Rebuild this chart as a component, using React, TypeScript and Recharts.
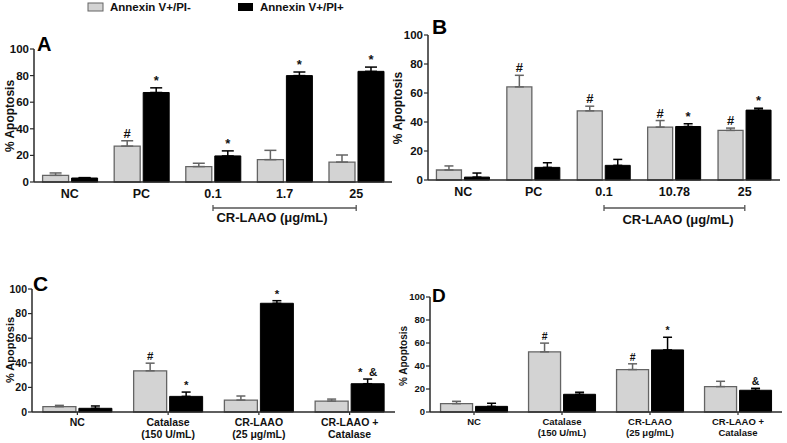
import React from 'react';
import { BarChart, Bar, XAxis, YAxis, ErrorBar, LabelList } from 'recharts';

const FONT = '"Liberation Sans", Arial, Helvetica, sans-serif';
const GRAY = '#d3d3d3';
const GRAY_EDGE = '#646464';
const INK = '#111111';
const AXIS = '#2a2a2a';

const yTicks = [0, 20, 40, 60, 80, 100];

// Panel A
const catsA = ['NC', 'PC', '0.1', '1.7', '25'];
const grayA = [5, 27, 11.6, 16.8, 15];
const grayErrA = [1.8, 4, 2.5, 7, 5.3];
const blackA = [3, 67.3, 19.6, 80, 83.2];
const blackErrA = [0.3, 3.5, 3.8, 2.7, 3.2];
const grayMarkA = ['', '#', '', '', ''];
const blackMarkA = ['', '*', '*', '*', '*'];

// Panel B
const catsB = ['NC', 'PC', '0.1', '10.78', '25'];
const grayB = [6.9, 64.2, 47.7, 36.5, 34.2];
const grayErrB = [2.8, 8, 3.2, 4.5, 1.6];
const blackB = [2, 8.7, 10.1, 36.9, 48.2];
const blackErrB = [2.8, 3.2, 4.1, 1.9, 1.3];
const grayMarkB = ['', '#', '#', '#', '#'];
const blackMarkB = ['', '', '', '*', '*'];

// Panels C and D share categories
const catsCD = ['NC', 'Catalase\n(150 U/mL)', 'CR-LAAO\n(25 μg/mL)', 'CR-LAAO +\nCatalase'];

const grayC = [4.3, 33.5, 9.7, 8.9];
const grayErrC = [1.1, 6.2, 3.3, 1.6];
const blackC = [3, 12.7, 88.4, 23];
const blackErrC = [1.9, 3.5, 2.1, 3.8];
const grayMarkC = ['', '#', '', ''];
const blackMarkC = ['', '*', '*', '*  &'];

const grayD = [7.3, 52.3, 36.9, 22.1];
const grayErrD = [2, 7.6, 5, 4.6];
const blackD = [4.9, 15.4, 54, 18.9];
const blackErrD = [2.7, 1.8, 11, 1.7];
const grayMarkD = ['', '#', '#', ''];
const blackMarkD = ['', '', '*', '&'];

type Row = {
  cat: string;
  gray: number;
  grayErr: number[];
  black: number;
  blackErr: number[];
  grayMark: string;
  blackMark: string;
};

const rows = (cats: string[], g: number[], ge: number[], b: number[], be: number[], gm: string[], bm: string[]): Row[] =>
  cats.map((cat, i) => ({
    cat,
    gray: g[i],
    grayErr: [0, ge[i]],
    black: b[i],
    blackErr: [0, be[i]],
    grayMark: gm[i],
    blackMark: bm[i],
  }));

const dataA = rows(catsA, grayA, grayErrA, blackA, blackErrA, grayMarkA, blackMarkA);
const dataB = rows(catsB, grayB, grayErrB, blackB, blackErrB, grayMarkB, blackMarkB);
const dataC = rows(catsCD, grayC, grayErrC, blackC, blackErrC, grayMarkC, blackMarkC);
const dataD = rows(catsCD, grayD, grayErrD, blackD, blackErrD, grayMarkD, blackMarkD);

type PanelProps = {
  data: Row[];
  left: number;
  top: number;
  right: number;
  bottom: number;
  yFont: number;
  xFont: number;
  lineGap: number;
  markFont: number;
  cap: number;
  xTickLen: number;
};

const YW = 32;

const Panel = (p: PanelProps) => {
  const plotW = p.right - p.left;
  const plotH = p.bottom - p.top;
  const mTop = 8;
  const xH = 34;
  const w = YW + plotW + 2;
  const h = mTop + plotH + xH;

  const renderTick = (props: any) => {
    const { x, y, payload } = props;
    const lines = String(payload.value).split('\n');
    return (
      <text x={x} y={y} textAnchor="middle" fontSize={p.xFont} fontWeight="bold" fontFamily={FONT} fill={INK}>
        {lines.map((l, i) => (
          <tspan key={i} x={x} dy={i === 0 ? p.xFont * 0.85 : p.lineGap}>{l}</tspan>
        ))}
      </text>
    );
  };

  // star / hash marks sit just above the top of each error whisker
  const markLabel = (errKey: 'grayErr' | 'blackErr', valKey: 'gray' | 'black') => (props: any) => {
    const { viewBox, value, index } = props;
    if (!value || !viewBox) return null;
    const row = p.data[index];
    const pxPerUnit = viewBox.height / row[valKey];
    const topY = viewBox.y - row[errKey][1] * pxPerUnit;
    return (
      <text x={viewBox.x + viewBox.width / 2} y={topY - 3} textAnchor="middle" fontSize={p.markFont} fontWeight="bold" fontFamily={FONT} fill={INK} style={{ whiteSpace: 'pre' }}>
        {value}
      </text>
    );
  };

  return (
    <div style={{ position: 'absolute', left: p.left - YW, top: p.top - mTop }}>
      <BarChart width={w} height={h} data={p.data} margin={{ top: mTop, right: 2, left: 0, bottom: 0 }} barCategoryGap="12%" barGap={3}>
        <XAxis
          dataKey="cat"
          interval={0}
          height={xH}
          axisLine={{ stroke: AXIS, strokeWidth: 1.5 }}
          tickLine={p.xTickLen > 0 ? { stroke: AXIS, strokeWidth: 1.2 } : false}
          tickSize={p.xTickLen > 0 ? p.xTickLen : 3}
          tickMargin={2}
          tick={renderTick}
        />
        <YAxis
          width={YW}
          domain={[0, 100]}
          ticks={yTicks}
          interval={0}
          axisLine={{ stroke: AXIS, strokeWidth: 1.5 }}
          tickLine={{ stroke: AXIS, strokeWidth: 1.2 }}
          tickSize={4}
          tickMargin={1}
          tick={{ fontSize: p.yFont, fontWeight: 'bold', fontFamily: FONT, fill: INK }}
        />
        <Bar dataKey="gray" fill={GRAY} stroke={GRAY_EDGE} strokeWidth={1.3} isAnimationActive={false}>
          <ErrorBar dataKey="grayErr" direction="y" width={p.cap} stroke={GRAY_EDGE} strokeWidth={1.5} />
          <LabelList dataKey="grayMark" content={markLabel('grayErr', 'gray')} />
        </Bar>
        <Bar dataKey="black" fill="#000" stroke="#000" strokeWidth={1} isAnimationActive={false}>
          <ErrorBar dataKey="blackErr" direction="y" width={p.cap} stroke="#000" strokeWidth={1.5} />
          <LabelList dataKey="blackMark" content={markLabel('blackErr', 'black')} />
        </Bar>
      </BarChart>
    </div>
  );
};

const yLabel = (x: number, y: number, fs: number) => (
  <text x={x} y={y} transform={`rotate(-90 ${x} ${y})`} textAnchor="middle" dominantBaseline="central" fontSize={fs} fontWeight="bold" fontFamily={FONT} fill={INK}>
    % Apoptosis
  </text>
);

const bracket = (x1: number, x2: number, y: number, tx: number, ty: number) => (
  <g>
    <line x1={x1} x2={x2} y1={y} y2={y} stroke="#555" strokeWidth={1.3} />
    <line x1={x1} x2={x1} y1={y - 3} y2={y + 3} stroke="#555" strokeWidth={1.3} />
    <line x1={x2} x2={x2} y1={y - 3} y2={y + 3} stroke="#555" strokeWidth={1.3} />
    <text x={tx} y={ty} textAnchor="middle" fontSize={13} fontWeight="bold" fontFamily={FONT} fill={INK}>
      CR-LAAO (μg/mL)
    </text>
  </g>
);

export default function App() {
  const bandA = (392 - 34) / 5;
  const bandB = (780 - 428) / 5;
  return (
    <div style={{ position: 'absolute', left: 0, top: 0, width: 787, height: 443, background: '#fff', overflow: 'hidden', fontFamily: FONT }}>
      <Panel data={dataA} left={34} top={49} right={392} bottom={182} yFont={11.5} xFont={12.5} lineGap={12} markFont={13} cap={6} xTickLen={0} />
      <Panel data={dataB} left={428} top={35} right={780} bottom={180} yFont={11.5} xFont={12.5} lineGap={12} markFont={13} cap={4.5} xTickLen={0} />
      <Panel data={dataC} left={32} top={289} right={395} bottom={412} yFont={10.5} xFont={10.5} lineGap={12.5} markFont={11.5} cap={4.5} xTickLen={3} />
      <Panel data={dataD} left={430} top={297} right={782} bottom={412} yFont={9.5} xFont={9.5} lineGap={10.5} markFont={10.5} cap={4.5} xTickLen={3} />

      <svg width={787} height={443} style={{ position: 'absolute', left: 0, top: 0, pointerEvents: 'none' }}>
        {/* legend */}
        <rect x={88} y={3} width={15} height={8} fill={GRAY} stroke={GRAY_EDGE} strokeWidth={1} />
        <text x={110} y={11} fontSize={11.5} fontWeight="bold" fontFamily={FONT} fill={INK}>Annexin V+/PI-</text>
        <rect x={238} y={3} width={15} height={8} fill="#000" />
        <text x={260} y={11} fontSize={11.5} fontWeight="bold" fontFamily={FONT} fill={INK}>Annexin V+/PI+</text>

        {/* panel letters */}
        <text x={37} y={51} fontSize={20} fontWeight="bold" fontFamily={FONT} fill="#000">A</text>
        <text x={432} y={34} fontSize={21} fontWeight="bold" fontFamily={FONT} fill="#000">B</text>
        <text x={33} y={291} fontSize={21} fontWeight="bold" fontFamily={FONT} fill="#000">C</text>
        <text x={432} y={302} fontSize={19} fontWeight="bold" fontFamily={FONT} fill="#000">D</text>

        {yLabel(10, 116, 12)}
        {yLabel(398, 108, 12)}
        {yLabel(10, 350, 11)}
        {yLabel(403, 356, 10)}

        {bracket(34 + bandA * 2.5, 34 + bandA * 4.5, 208, 272, 222)}
        {bracket(428 + bandB * 2.5, 428 + bandB * 4.5, 208, 678, 224)}
      </svg>
    </div>
  );
}
